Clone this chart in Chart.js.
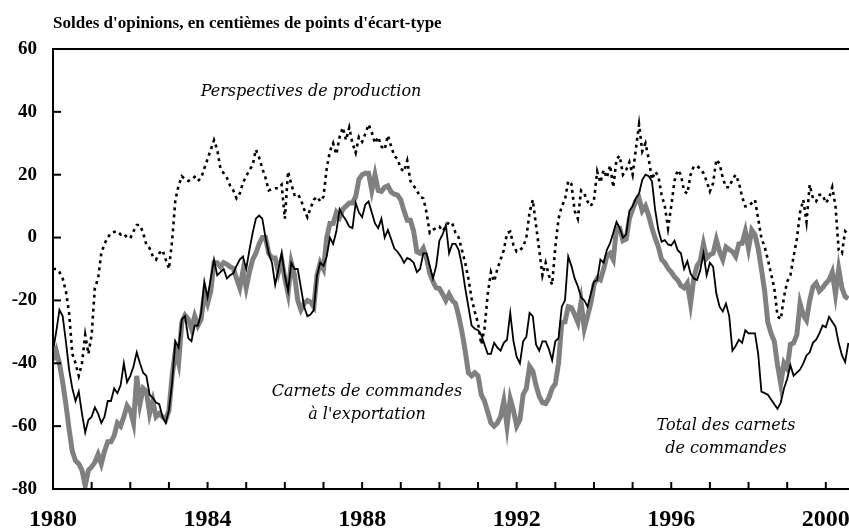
<!DOCTYPE html>
<html>
<head>
<meta charset="utf-8">
<script src="https://cdn.jsdelivr.net/npm/chart.js@4"></script>
<style>
  html, body { margin: 0; padding: 0; background: #fff; }
  canvas { display: block; }
</style>
</head>
<body>
<canvas id="myChart" width="849" height="530"></canvas>
<script>
// Séries mensuelles, de janvier 1980 à août 2000
var startYear = 1980;

var perspectives = [
  -10, -10, -11, -13, -17, -24, -37, -40, -44, -40,
  -31, -37, -31, -16, -13, -5, -2, 0, 1.5, 1.8,
  2, 1, 1.3, 0, -0.2, 2, 4, 4, 1.5, -2.3,
  -3.4, -6, -7, -5, -4, -7, -10, -1, 12, 16.5,
  19.5, 18.6, 18, 18.5, 19.3, 18, 19, 22, 25, 28,
  31, 28, 22, 20.5, 19, 16.5, 15, 12.5, 14, 17.5,
  19.5, 21.5, 23, 28, 25.5, 22, 19, 15, 15.5, 15.7,
  15.7, 16.8, 6, 21, 17, 13.6, 14, 12, 9, 6.5,
  9.4, 12, 13, 11.5, 13, 22, 27.5, 30, 26.5, 32,
  35, 31, 35, 30, 27, 32, 30.5, 33, 36, 33.5,
  30, 32, 29, 28, 32.5, 29, 26, 25, 22, 21,
  24.5, 18, 16.5, 15, 13, 12.5, 8, 1.5, 2.5, 3,
  3.5, 2, 3.5, 5, 4.5, 1.5, 0, -4, -8, -13,
  -19.4, -23.6, -27.3, -34, -29, -18, -11, -14, -10, -7,
  -4, 1.4, 1.9, -2.5, -4.5, -4, -3, 0, 8, 12,
  4, -4, -12, -8, -12, -15, -3, 6, 10, 12,
  18, 17, 8.5, 6, 15, 14, 11.5, 10, 12, 21,
  17.5, 21.5, 19, 23, 16, 25, 26, 20, 21.5, 24,
  20, 28, 36, 27.5, 30, 25, 18.5, 21, 19.5, 13.6,
  10, 3, 10, 18, 21.5, 20, 14.7, 14, 20, 22.7,
  22.7, 22, 20.5, 17.9, 14.7, 17.3, 24.8, 23.5, 19, 16,
  16, 18.5, 20, 17.5, 13, 9.9, 10, 11, 12, 6,
  -0.2, -2.9, -7, -11.5, -16, -25, -26, -19, -14, -12,
  -6, -0.5, 8, 12, 5, 16.8, 12.5, 11.5, 13.6, 13.6,
  11, 12.5, 16, 10, -4, -5, 2, 1
];

var totalCarnets = [
  -36, -30, -23, -25, -33, -42, -48, -52, -49, -56,
  -62, -58, -57, -54, -56, -59, -57, -52, -52, -48,
  -49.5, -47, -40, -46, -44, -41, -36.5, -40, -43, -44,
  -50, -51, -52.5, -53, -57, -59, -55, -46, -33, -35,
  -26, -25, -32, -33, -28, -28, -24, -14, -19, -13,
  -7, -12, -11, -10, -13, -12, -11.4, -9, -7, -6,
  -10, -4, 1.5, 6, 7, 6, 0, -5, -8, -15,
  -10, -5, -12, -17, -8, -10, -10, -16, -22, -25,
  -24.5, -23, -12, -8, -9, -6, 0, -2, 2, 9,
  7, 5.5, 3.5, 3, 11, 8, 6.5, 10.5, 11.5, 8,
  4.5, 3, 6, 0, 2.4, -0.5, -3.5, -4.5, -6, -8,
  -6.5, -7, -8, -11, -10, -5, -5, -9, -13, -9,
  -1, 1, 4, -5, -2, -2, -4, -9, -16, -22,
  -28, -29, -29.5, -31, -34, -37, -37, -33.5, -35, -36,
  -33.5, -32.5, -24, -33, -38, -40, -33, -31.6, -24, -25,
  -34, -36, -33, -33, -35.5, -39, -33, -32, -22, -20,
  -6, -9, -13, -15.5, -19, -20, -22, -18, -14, -13.5,
  -7, -8, -4, -1.8, 1.5, 5, 3, 0, 1, 8.5,
  10, 12.5, 14, 18.4, 20, 19.5, 18, 8.8, 2.4, -1.3,
  -0.8, -2.2, -2.5, -1, -4, -5, -10, -7.5, -11.5, -13,
  -13.5, -10.5, -5, -12, -8, -9.3, -17.8, -22, -23.5, -21,
  -25, -36, -34.5, -32.5, -33.5, -29.5, -30.5, -30.5, -30.5, -37,
  -49, -49.5, -50, -51.5, -53, -54.5, -52.5, -48, -45, -40.6,
  -44, -43, -42, -40, -37.5, -36.5, -33.5, -32.5, -30.5, -28,
  -28.5, -25.2, -26.8, -28.4, -33.5, -37.4, -39.6, -33.5
];

var exportCarnets = [
  -39, -36, -40, -46, -53, -61, -68, -71, -72, -74,
  -79, -74, -73, -71.5, -69, -72, -68, -65, -65, -63,
  -59, -60, -57, -53.5, -55, -59, -44, -53, -48, -49,
  -56, -52, -57, -56, -57, -58, -55, -44, -36, -40,
  -27, -24.7, -26, -29, -25, -28, -26, -18, -21, -17,
  -8, -8, -9.3, -8, -8.5, -9.3, -9.8, -13, -16, -10.5,
  -16, -11, -7, -5, -2, 0, 0, -5, -6.5, -6.5,
  -11, -7, -13, -17.8, -8, -12, -20, -23, -21, -20,
  -20.5, -22, -12, -8, -10, 0, 4.5, 4.5, 8, 6.5,
  9, 10, 11, 11, 13, 18.5, 20, 20.5, 20.5, 15,
  20, 15, 14.7, 16, 16.5, 14.5, 13.8, 13.5, 12, 8.5,
  5.5, 5.5, 2, -4.5, -5, -3.4, -6.6, -11.4, -14, -16,
  -16.2, -18, -20, -18, -20, -21, -25, -30, -36, -43,
  -44, -43, -44, -50, -52, -55.5, -59, -60, -59, -57,
  -52, -60, -51.3, -55, -60, -58, -50, -48, -41, -42.5,
  -47, -50.5, -52.5, -52.8, -51, -48, -46.5, -40, -27, -26.8,
  -22, -22.3, -24.5, -27, -20.5, -29, -25, -21, -15, -13,
  -13.5, -10, -6, -5, -7, 3, 3, -1, -0.5, 6,
  9, 11.5, 12.5, 8.5, 10, 7, 3, -0.2, -3, -7,
  -8, -9.8, -11, -12.5, -13.5, -15.3, -16, -14.5, -21, -13,
  -9, -7.5, -2, -6.6, -5.5, -5, -0.7, -4.5, -7, -3,
  -3.8, -4.5, -6, -2, -1.8, 2, -3.5, 2.4, 0.9, -3.5,
  -10, -17, -27, -30.5, -33, -40.5, -46.5, -40, -41.7, -34,
  -33.5, -31, -21, -24.7, -26.3, -20, -15.6, -14.5, -17, -16,
  -14.6, -13.5, -11, -18, -10, -16, -18.8, -19.4
];

var yTicks = [60, 40, 20, 0, -20, -40, -60, -80];
var yearLabels = [1980, 1984, 1988, 1992, 1996, 2000];

var titre = "Soldes d'opinions, en centièmes de points d'écart-type";
var annotations = [
  { lignes: ["Perspectives de production"], x: 311, y: 96 },
  { lignes: ["Carnets de commandes", "à l'exportation"], x: 367, y: 396 },
  { lignes: ["Total des carnets", "de commandes"], x: 726, y: 430 }
];

// Transformer une série mensuelle en points {x: année décimale, y: valeur}
function toPoints(values) {
  return values.map(function(v, i) {
    return { x: startYear + i / 12, y: v };
  });
}

// Plugin pour dessiner le cadre, les graduations et les textes
var decorPlugin = {
  id: 'decor',
  afterDraw: function(chart) {
    var ctx = chart.ctx;
    var area = chart.chartArea;
    var xs = chart.scales.x;
    var ys = chart.scales.y;

    ctx.save();
    ctx.strokeStyle = '#000';
    ctx.lineWidth = 2;
    ctx.beginPath();
    ctx.moveTo(area.right, area.top);
    ctx.lineTo(area.left, area.top);
    ctx.lineTo(area.left, area.bottom);
    ctx.lineTo(area.right, area.bottom);
    ctx.stroke();

    // graduations de l'axe vertical
    ctx.fillStyle = '#000';
    ctx.font = 'bold 19px "Liberation Serif"';
    ctx.textAlign = 'right';
    ctx.textBaseline = 'middle';
    yTicks.forEach(function(v) {
      var y = ys.getPixelForValue(v);
      if (v > -80 && v < 60) {
        ctx.beginPath();
        ctx.moveTo(area.left, y);
        ctx.lineTo(area.left + 8, y);
        ctx.stroke();
      }
      ctx.fillText(String(v), 37, y);
    });

    // graduations annuelles de l'axe horizontal
    for (var yr = startYear + 1; yr <= 2000; yr++) {
      var x = xs.getPixelForValue(yr);
      ctx.beginPath();
      ctx.moveTo(x, area.bottom);
      ctx.lineTo(x, area.bottom - 7);
      ctx.stroke();
    }
    ctx.font = 'bold 24px "Liberation Serif"';
    ctx.textAlign = 'center';
    yearLabels.forEach(function(yr) {
      ctx.fillText(String(yr), xs.getPixelForValue(yr), 520);
    });

    // titre
    ctx.font = 'bold 17px "Liberation Serif"';
    ctx.textAlign = 'left';
    ctx.textBaseline = 'alphabetic';
    ctx.fillText(titre, area.left, 28);

    // étiquettes des courbes
    ctx.font = 'italic 16px "DejaVu Serif"';
    ctx.textAlign = 'center';
    annotations.forEach(function(a) {
      a.lignes.forEach(function(l, i) {
        ctx.fillText(l, a.x, a.y + i * 23);
      });
    });
    ctx.restore();
  }
};

var ctx = document.getElementById('myChart').getContext('2d');
var myChart = new Chart(ctx, {
  type: 'line',
  data: {
    datasets: [{
      label: 'Perspectives de production',
      data: toPoints(perspectives),
      borderColor: '#000000',
      borderWidth: 2.6,
      borderDash: [3, 4],
      pointRadius: 0,
      order: 0
    }, {
      label: 'Total des carnets de commandes',
      data: toPoints(totalCarnets),
      borderColor: '#000000',
      borderWidth: 1.8,
      pointRadius: 0,
      order: 1
    }, {
      label: "Carnets de commandes à l'exportation",
      data: toPoints(exportCarnets),
      borderColor: '#808080',
      borderWidth: 5,
      pointRadius: 0,
      order: 2
    }]
  },
  options: {
    responsive: false,
    animation: false,
    layout: { padding: { left: 53, top: 49, right: 0, bottom: 41 } },
    plugins: { legend: { display: false }, tooltip: { enabled: false } },
    scales: {
      x: { type: 'linear', min: 1980, max: 2000.6, display: false },
      y: { min: -80, max: 60, display: false }
    }
  },
  plugins: [decorPlugin]
});
</script>
</body>
</html>
